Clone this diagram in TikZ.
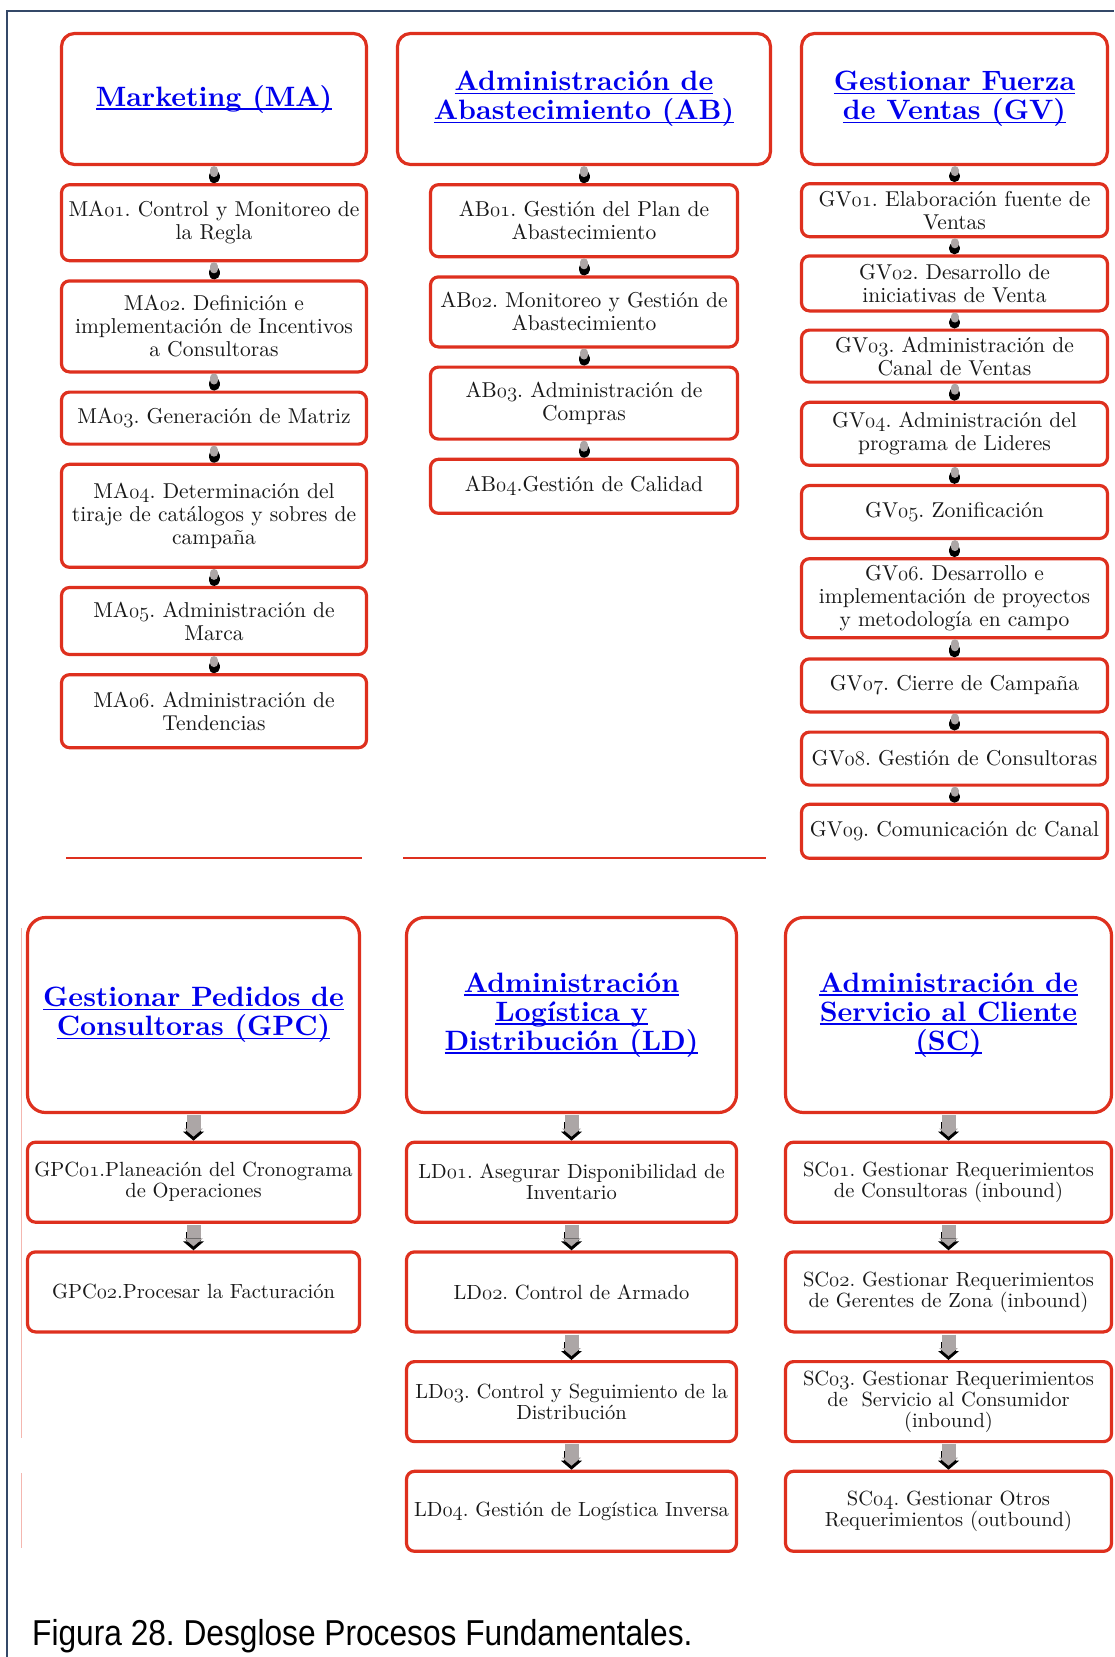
\documentclass[tikz,border=0pt]{standalone}
\usepackage{fontspec}
\setmainfont{lmroman10-regular.otf}[BoldFont=lmroman10-bold.otf, ItalicFont=lmroman10-italic.otf]
\newfontfamily\capfont{Liberation Sans}
\usepackage{tikz}
\usetikzlibrary{positioning,arrows.meta}

\definecolor{boxred}{RGB}{222,48,30}
\definecolor{linkgray}{RGB}{172,166,166}
\definecolor{headblue}{RGB}{0,0,236}
\definecolor{framecol}{RGB}{52,72,104}
\definecolor{textcol}{RGB}{24,24,24}

% old style figures of the process codes
\newcommand{\codenum}[1]{{\usefont{OML}{cmm}{m}{it}#1}}
% underline close to the baseline, as in the headers
\newsavebox{\ulbox}
\newcommand{\headuline}[1]{\sbox{\ulbox}{#1}\rlap{\rule[-3.5pt]{\wd\ulbox}{1.7pt}}\usebox{\ulbox}}
\frenchspacing

\begin{document}
\begin{tikzpicture}[x=1pt,y=-1pt,
    headbox/.style={draw=boxred, line width=3.2pt, rounded corners=13pt, fill=white, align=center,
        font=\fontsize{28}{29}\selectfont\bfseries, text=headblue, inner sep=2pt},
    procbox/.style={draw=boxred, line width=3.2pt, rounded corners=8pt, fill=white, align=center,
        font=\fontsize{21.5}{23}\selectfont, text=textcol, inner xsep=2pt, inner ysep=1pt},
    lowbox/.style={procbox, font=\fontsize{20.5}{21}\selectfont},
    linkback/.style={draw=black, line width=11pt, line cap=round, shorten <=9.5pt, shorten >=5.5pt},
    linkfront/.style={draw=linkgray, line width=8pt, line cap=round, shorten <=4pt, shorten >=10pt},
    arrowback/.style={draw=black, line width=15pt, shorten <=8pt, -{Triangle[length=9pt,width=21pt,line width=0pt]}},
    arrowfront/.style={draw=linkgray, line width=14pt, shorten <=1pt, shorten >=4pt, -{Triangle[length=8pt,width=19pt,line width=0pt]}}]
    \useasboundingbox (0,0) rectangle (1114,1657);

    % frame of the page
    \draw[framecol, line width=1.3pt] (7,1657) -- (7,11) -- (1114,11);

    % Marketing
    \node[headbox, minimum width=305pt, minimum height=131pt] (maH) at (214,99) {\headuline{Marketing (MA)}};
    \node[procbox, minimum width=305pt, minimum height=76pt, below=17pt of maH] (ma1) {MA\codenum{01}. Control y Monitoreo de\\la Regla};
    \node[procbox, minimum width=305pt, minimum height=91pt, below=17pt of ma1] (ma2) {MA\codenum{02}. Definición e\\implementación de Incentivos\\a Consultoras};
    \node[procbox, minimum width=305pt, minimum height=52pt, below=17pt of ma2] (ma3) {MA\codenum{03}. Generación de Matriz};
    \node[procbox, minimum width=305pt, minimum height=103pt, below=17pt of ma3] (ma4) {MA\codenum{04}. Determinación del\\tiraje de catálogos y sobres de\\campaña};
    \node[procbox, minimum width=305pt, minimum height=67pt, below=17pt of ma4] (ma5) {MA\codenum{05}. Administración de\\Marca};
    \node[procbox, minimum width=305pt, minimum height=73pt, below=17pt of ma5] (ma6) {MA\codenum{06}. Administración de\\Tendencias};

    % Abastecimiento
    \node[headbox, minimum width=373pt, minimum height=131pt] (abH) at (584,99) {\headuline{Administración de}\\\headuline{Abastecimiento (AB)}};
    \node[procbox, minimum width=307pt, minimum height=72pt, below=17pt of abH] (ab1) {AB\codenum{01}. Gestión del Plan de\\Abastecimiento};
    \node[procbox, minimum width=307pt, minimum height=70pt, below=17pt of ab1] (ab2) {AB\codenum{02}. Monitoreo y Gestión de\\Abastecimiento};
    \node[procbox, minimum width=307pt, minimum height=72pt, below=17pt of ab2] (ab3) {AB\codenum{03}. Administración de\\Compras};
    \node[procbox, minimum width=307pt, minimum height=54pt, below=17pt of ab3] (ab4) {AB\codenum{04}.Gestión de Calidad};

    % Fuerza de Ventas
    \node[headbox, minimum width=306pt, minimum height=131pt] (gvH) at (954.5,99) {\headuline{Gestionar Fuerza}\\\headuline{de Ventas (GV)}};
    \node[procbox, minimum width=306pt, minimum height=53pt, below=16pt of gvH] (gv1) {GV\codenum{01}. Elaboración fuente de\\Ventas};
    \node[procbox, minimum width=306pt, minimum height=55pt, below=16pt of gv1] (gv2) {GV\codenum{02}. Desarrollo de\\iniciativas de Venta};
    \node[procbox, minimum width=306pt, minimum height=52pt, below=16pt of gv2] (gv3) {GV\codenum{03}. Administración de\\Canal de Ventas};
    \node[procbox, minimum width=306pt, minimum height=63pt, below=17pt of gv3] (gv4) {GV\codenum{04}. Administración del\\programa de Lideres};
    \node[procbox, minimum width=306pt, minimum height=53pt, below=17pt of gv4] (gv5) {GV\codenum{05}. Zonificación};
    \node[procbox, minimum width=306pt, minimum height=79pt, below=17pt of gv5] (gv6) {GV\codenum{06}. Desarrollo e\\implementación de proyectos\\y metodología en campo};
    \node[procbox, minimum width=306pt, minimum height=53pt, below=18pt of gv6] (gv7) {GV\codenum{07}. Cierre de Campaña};
    \node[procbox, minimum width=306pt, minimum height=53pt, below=17pt of gv7] (gv8) {GV\codenum{08}. Gestión de Consultoras};
    \node[procbox, minimum width=306pt, minimum height=54pt, below=16pt of gv8] (gv9) {GV\codenum{09}. Comunicación dc Canal};

    % leftover rules of the upper boxes
    \draw[boxred, line width=2pt] (66,858) -- (362,858);
    \draw[boxred, line width=2pt] (403,858) -- (766,858);
    \draw[boxred!35, line width=0.8pt] (21,928) -- (21,1438) (21,1473) -- (21,1548);

    % Pedidos de Consultoras
    \node[headbox, rounded corners=18pt, minimum width=332pt, minimum height=195pt] (gpcH) at (193.5,1015) {\headuline{Gestionar Pedidos de}\\\headuline{Consultoras (GPC)}};
    \node[lowbox, minimum width=332pt, minimum height=80pt, below=26.5pt of gpcH] (gpc1) {GPC\codenum{01}.Planeación del Cronograma\\de Operaciones};
    \node[lowbox, minimum width=332pt, minimum height=80pt, below=26.5pt of gpc1] (gpc2) {GPC\codenum{02}.Procesar la Facturación};

    % Logistica y Distribucion
    \node[headbox, rounded corners=18pt, minimum width=330pt, minimum height=195pt] (ldH) at (571.5,1015) {\headuline{Administración}\\\headuline{Logística y}\\\headuline{Distribución (LD)}};
    \node[lowbox, minimum width=330pt, minimum height=80pt, below=26.5pt of ldH] (ld1) {LD\codenum{01}. Asegurar Disponibilidad de\\Inventario};
    \node[lowbox, minimum width=330pt, minimum height=80pt, below=26.5pt of ld1] (ld2) {LD\codenum{02}. Control de Armado};
    \node[lowbox, minimum width=330pt, minimum height=80pt, below=26.5pt of ld2] (ld3) {LD\codenum{03}. Control y Seguimiento de la\\Distribución};
    \node[lowbox, minimum width=330pt, minimum height=80pt, below=26.5pt of ld3] (ld4) {LD\codenum{04}. Gestión de Logística Inversa};

    % Servicio al Cliente
    \node[headbox, rounded corners=18pt, minimum width=326pt, minimum height=195pt] (scH) at (948.5,1015) {\headuline{Administración de}\\\headuline{Servicio al Cliente}\\\headuline{(SC)}};
    \node[lowbox, minimum width=326pt, minimum height=80pt, below=26.5pt of scH] (sc1) {SC\codenum{01}. Gestionar Requerimientos\\de Consultoras (inbound)};
    \node[lowbox, minimum width=326pt, minimum height=80pt, below=26.5pt of sc1] (sc2) {SC\codenum{02}. Gestionar Requerimientos\\de Gerentes de Zona (inbound)};
    \node[lowbox, minimum width=326pt, minimum height=80pt, below=26.5pt of sc2] (sc3) {SC\codenum{03}. Gestionar Requerimientos\\de~ Servicio al Consumidor\\(inbound)};
    \node[lowbox, minimum width=326pt, minimum height=80pt, below=26.5pt of sc3] (sc4) {SC\codenum{04}. Gestionar Otros\\Requerimientos (outbound)};

    % links
    \foreach \a/\b in {maH/ma1,ma1/ma2,ma2/ma3,ma3/ma4,ma4/ma5,ma5/ma6,
                       abH/ab1,ab1/ab2,ab2/ab3,ab3/ab4,
                       gvH/gv1,gv1/gv2,gv2/gv3,gv3/gv4,gv4/gv5,gv5/gv6,gv6/gv7,gv7/gv8,gv8/gv9} {
        \draw[linkback] (\a.south) -- (\b.north);
        \draw[linkfront] (\a.south) -- (\b.north);
    }
    \foreach \a/\b in {gpcH/gpc1,gpc1/gpc2,
                       ldH/ld1,ld1/ld2,ld2/ld3,ld3/ld4,
                       scH/sc1,sc1/sc2,sc2/sc3,sc3/sc4} {
        \draw[arrowback] (\a.south) -- (\b.north);
        \draw[arrowfront] (\a.south) -- (\b.north);
    }

    % caption
    \node[anchor=base west, inner sep=0pt, font=\capfont\fontsize{36}{40}\selectfont] (caption) at (32,1645)
        {\scalebox{0.88}[1]{Figura 28. Desglose Procesos Fundamentales.}};
\end{tikzpicture}
\end{document}
